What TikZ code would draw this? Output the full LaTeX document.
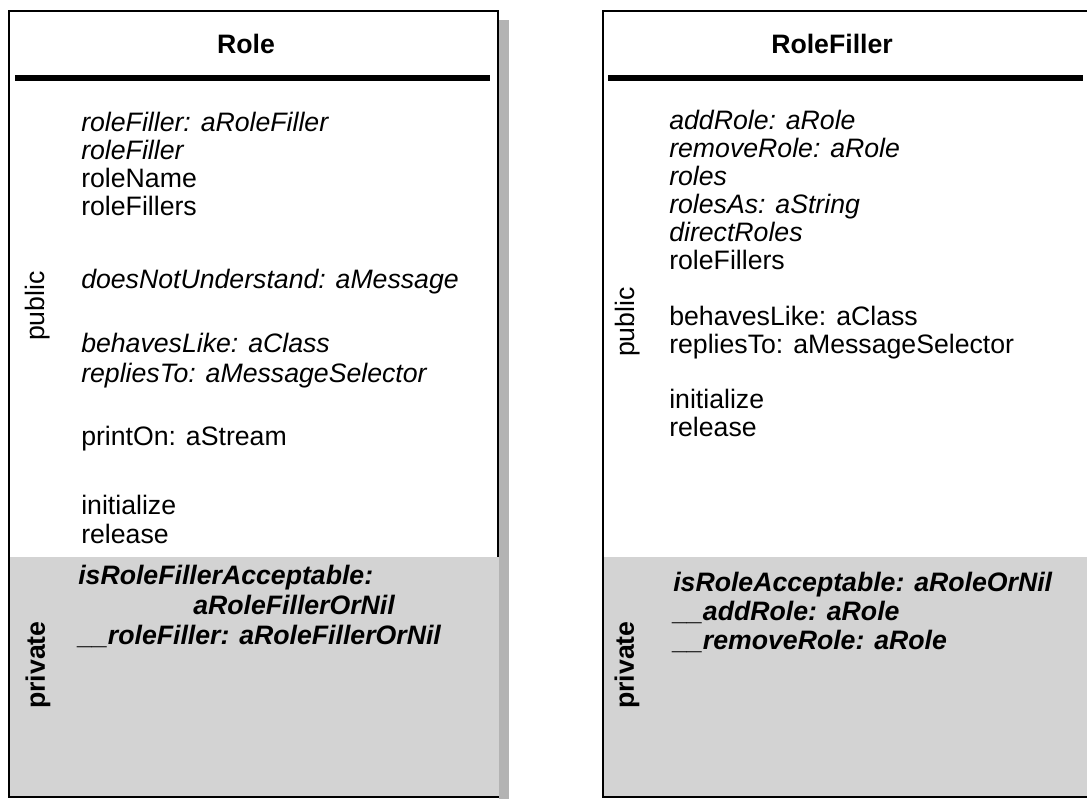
\documentclass[tikz,border=0pt]{standalone}
\usepackage{fontspec}
\setmainfont{Liberation Sans}
\definecolor{privgray}{HTML}{D3D3D3}
\definecolor{shadowgray}{HTML}{B3B3B3}
\tikzset{
  frame/.style={line width=1.875pt, draw=black},
  headrule/.style={line width=4.125pt, draw=black},
  txt/.style={anchor=base west, inner sep=0pt, font=\fontsize{20pt}{24pt}\selectfont},
  msg/.style={txt, font=\fontsize{20pt}{24pt}\selectfont\itshape},
  pmsg/.style={txt, font=\fontsize{20pt}{24pt}\selectfont\bfseries\itshape},
  title/.style={anchor=base, inner sep=0pt, font=\fontsize{20pt}{24pt}\selectfont\bfseries},
  side/.style={rotate=90, inner sep=0pt, font=\fontsize{20pt}{24pt}\selectfont},
  bside/.style={side, font=\fontsize{20pt}{24pt}\selectfont\bfseries},
}
\begin{document}
\begin{tikzpicture}[x=0.75pt, y=-0.75pt]
\clip (0,0) rectangle (1087,799);
\fill[white] (0,0) rectangle (1087,799);

% ---- class Role ----
\fill[shadowgray] (499,20) rectangle (509,799);
\fill[white] (9,11) rectangle (498,797);
\draw[frame] (9,11) rectangle (498,797);
\fill[privgray] (10.25,557) rectangle (499.25,795.75);
\draw[headrule] (15,78) -- (490,78);
\node[title] (roleT) at (246,54) {Role};

\node[side]  (rolePub)  at (38,306) {public};
\node[bside] (rolePriv) at (38,665) {private};

\node[msg] (r1)  at (81,131) {roleFiller: aRoleFiller};
\node[msg] (r2)  at (81,159) {roleFiller};
\node[txt] (r3)  at (81,187) {roleName};
\node[txt] (r4)  at (81,215) {roleFillers};
\node[msg] (r5)  at (81,288) {doesNotUnderstand: aMessage};
\node[msg] (r6)  at (81,352) {behavesLike: aClass};
\node[msg] (r7)  at (81,382) {repliesTo: aMessageSelector};
\node[txt] (r8)  at (81,445) {printOn: aStream};
\node[txt] (r9)  at (81,514) {initialize};
\node[txt] (r10) at (81,543) {release};

\node[pmsg] (rp1) at (78,584)  {isRoleFillerAcceptable:};
\node[pmsg] (rp2) at (193,614) {aRoleFillerOrNil};
\node[pmsg] (rp3) at (78,644)  {\_\_roleFiller: aRoleFillerOrNil};

% ---- class RoleFiller ----
\fill[white] (603,11) rectangle (1092,797);
\draw[frame] (603,11) rectangle (1092,797);
\fill[privgray] (604.25,557) rectangle (1093.25,795.75);
\draw[headrule] (608,78) -- (1083,78);
\node[title] (fillT) at (832,54) {RoleFiller};

\node[side]  (fillPub)  at (628,322) {public};
\node[bside] (fillPriv) at (627,665) {private};

\node[msg] (f1)  at (669,129) {addRole: aRole};
\node[msg] (f2)  at (669,157) {removeRole: aRole};
\node[msg] (f3)  at (669,185) {roles};
\node[msg] (f4)  at (669,213) {rolesAs: aString};
\node[msg] (f5)  at (669,241) {directRoles};
\node[txt] (f6)  at (669,269) {roleFillers};
\node[txt] (f7)  at (669,325) {behavesLike: aClass};
\node[txt] (f8)  at (669,353) {repliesTo: aMessageSelector};
\node[txt] (f9)  at (669,408) {initialize};
\node[txt] (f10) at (669,436) {release};

\node[pmsg] (fp1) at (673,591) {isRoleAcceptable: aRoleOrNil};
\node[pmsg] (fp2) at (673,620) {\_\_addRole: aRole};
\node[pmsg] (fp3) at (673,649) {\_\_removeRole: aRole};
\end{tikzpicture}
\end{document}
